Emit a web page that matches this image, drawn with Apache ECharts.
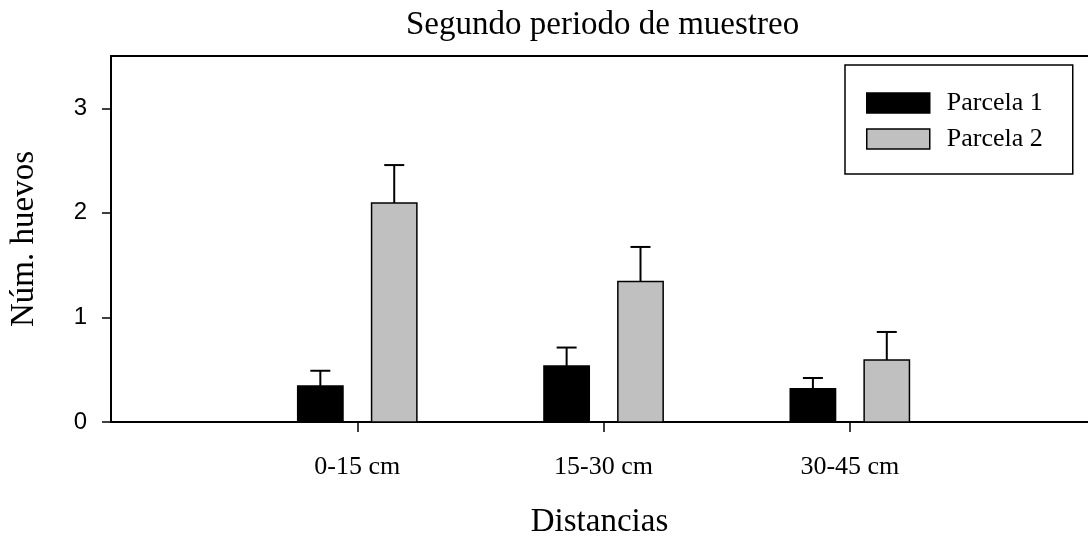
<!DOCTYPE html>
<html>
<head>
<meta charset="utf-8">
<script src="https://cdn.jsdelivr.net/npm/echarts@6/dist/echarts.min.js"></script>
<style>html,body{margin:0;padding:0;background:#fff}#c{width:1088px;height:544px}</style>
</head>
<body>
<div id="c"></div>
<script>
const categories = ['0-15 cm', '15-30 cm', '30-45 cm'];
const parcela1 = [0.345, 0.535, 0.317];
const parcela1Err = [0.145, 0.177, 0.104];
const parcela2 = [2.094, 1.344, 0.592];
const parcela2Err = [0.363, 0.330, 0.269];
const yTicks = [0, 1, 2, 3];
const xTicks = [1, 2, 3];

const SERIF = '"Liberation Serif", "Times New Roman", serif';
const SANS = '"Liberation Sans", Arial, sans-serif';
const BAR_W = 0.184;
const OFFSET = 0.15;
const X_MAX = 3.967;

function makeRender(offset, fill) {
  return function (params, api) {
    const x = api.value(0) + offset;
    const y = api.value(1);
    const e = api.value(2);
    const base = api.coord([x, 0]);
    const top = api.coord([x, y]);
    const cap = api.coord([x, y + e]);
    const w = api.size([BAR_W, 0])[0];
    return {
      type: 'group',
      children: [
        { type: 'line', shape: { x1: top[0], y1: top[1], x2: cap[0], y2: cap[1] }, style: { stroke: '#000', lineWidth: 2 } },
        { type: 'line', shape: { x1: cap[0] - 10, y1: cap[1], x2: cap[0] + 10, y2: cap[1] }, style: { stroke: '#000', lineWidth: 2 } },
        { type: 'rect', shape: { x: base[0] - w / 2, y: top[1], width: w, height: base[1] - top[1] }, style: { fill: fill, stroke: '#000', lineWidth: 1.5 } }
      ]
    };
  };
}

const d1 = categories.map((c, i) => [xTicks[i], parcela1[i], parcela1Err[i]]);
const d2 = categories.map((c, i) => [xTicks[i], parcela2[i], parcela2Err[i]]);

const chart = echarts.init(document.getElementById('c'), null, { renderer: 'canvas' });
chart.setOption({
  backgroundColor: '#fff',
  animation: false,
  title: {
    text: 'Segundo periodo de muestreo',
    left: 401, top: 4,
    textStyle: { fontFamily: SERIF, fontSize: 33, fontWeight: 'normal', color: '#000' }
  },
  legend: {
    orient: 'vertical',
    left: 845, top: 65,
    padding: [25, 30, 22, 21],
    backgroundColor: '#fff',
    borderColor: '#000', borderWidth: 1.5,
    itemWidth: 63, itemHeight: 20, itemGap: 10,
    icon: 'rect',
    textStyle: { fontFamily: SERIF, fontSize: 26, color: '#000', padding: [0, 0, 0, 12] },
    data: [
      { name: 'Parcela 1', itemStyle: { color: '#000', borderColor: '#000', borderWidth: 1.5 } },
      { name: 'Parcela 2', itemStyle: { color: '#c0c0c0', borderColor: '#000', borderWidth: 1.5 } }
    ]
  },
  grid: { left: 107, top: 56, bottom: 118, right: 0, show: false },
  xAxis: [{
    type: 'value', min: 0, max: X_MAX, interval: 1,
    name: 'Distancias', nameLocation: 'middle', nameGap: 84,
    nameTextStyle: { fontFamily: SERIF, fontSize: 33, color: '#000' },
    axisLine: { show: true, lineStyle: { color: '#000', width: 2 } },
    axisTick: { show: true, length: 10, lineStyle: { color: '#000', width: 1.5 }, customValues: xTicks },
    axisLabel: {
      customValues: xTicks, margin: 32,
      fontFamily: SERIF, fontSize: 26, color: '#000',
      formatter: v => categories[xTicks.indexOf(Math.round(v))] || ''
    },
    splitLine: { show: false }
  }, {
    type: 'value', position: 'top', min: 0, max: X_MAX,
    axisLine: { show: true, lineStyle: { color: '#000', width: 2 } },
    axisTick: { show: false }, axisLabel: { show: false }, splitLine: { show: false }
  }],
  yAxis: {
    type: 'value', min: 0, max: 3.5, interval: 1,
    name: 'Núm. huevos', nameLocation: 'middle', nameGap: 70, nameRotate: 90,
    nameTextStyle: { fontFamily: SERIF, fontSize: 33, color: '#000' },
    axisLine: { show: true, lineStyle: { color: '#000', width: 2 } },
    axisTick: { show: true, length: 9, lineStyle: { color: '#000', width: 1.5 }, customValues: yTicks },
    axisLabel: { customValues: yTicks, margin: 24, fontFamily: SANS, fontSize: 24, color: '#000' },
    splitLine: { show: false }
  },
  series: [
    { name: 'Parcela 1', type: 'custom', renderItem: makeRender(-OFFSET, '#000'), itemStyle: { color: '#000' }, encode: { x: 0, y: 1 }, data: d1, clip: true },
    { name: 'Parcela 2', type: 'custom', renderItem: makeRender(OFFSET, '#c0c0c0'), itemStyle: { color: '#c0c0c0' }, encode: { x: 0, y: 1 }, data: d2, clip: true }
  ]
});
</script>
</body>
</html>
